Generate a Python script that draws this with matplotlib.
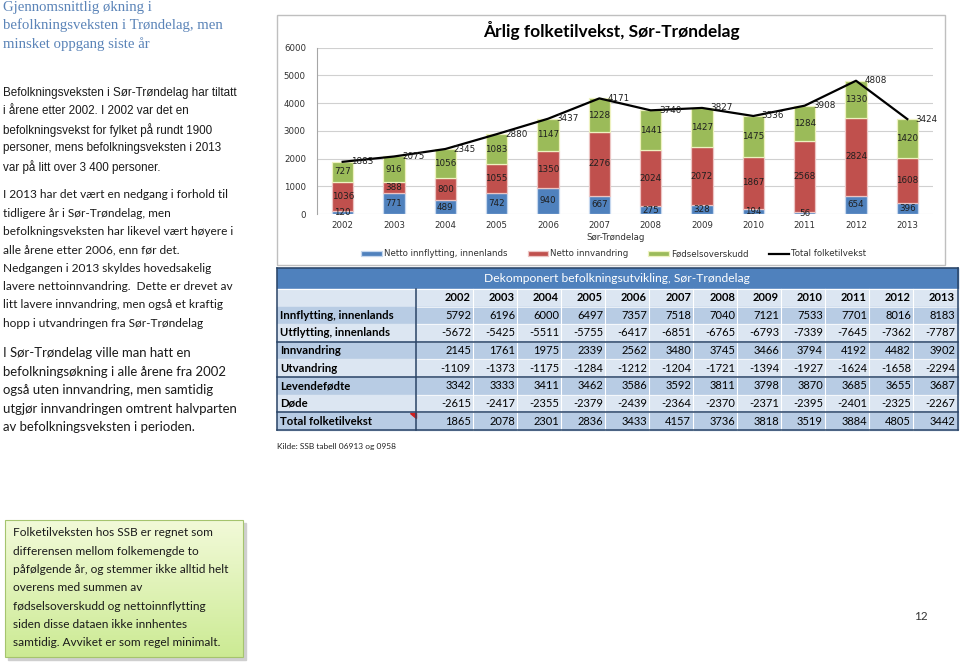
import matplotlib
matplotlib.use('Agg')
import matplotlib.pyplot as plt
import matplotlib.patches as mpatches
import numpy as np

# chart data
years = ['2002', '2003', '2004', '2005', '2006', '2007', '2008', '2009', '2010', '2011', '2012', '2013']
netto_innflytting = [120, 771, 489, 742, 940, 667, 275, 328, 194, 56, 654, 396]
netto_innvandring = [1036, 388, 800, 1055, 1350, 2276, 2024, 2072, 1867, 2568, 2824, 1608]
fodselsoverskudd = [727, 916, 1056, 1083, 1147, 1228, 1441, 1427, 1475, 1284, 1330, 1420]
total_vekst = [1883, 2075, 2345, 2880, 3437, 4171, 3740, 3827, 3536, 3908, 4808, 3424]

# table data
row_labels = ['Innflytting, innenlands', 'Utflytting, innenlands', 'Innvandring', 'Utvandring',
              'Levendefødte', 'Døde', 'Total folketilvekst']
innflytting = [5792, 6196, 6000, 6497, 7357, 7518, 7040, 7121, 7533, 7701, 8016, 8183]
utflytting = [-5672, -5425, -5511, -5755, -6417, -6851, -6765, -6793, -7339, -7645, -7362, -7787]
innvandring = [2145, 1761, 1975, 2339, 2562, 3480, 3745, 3466, 3794, 4192, 4482, 3902]
utvandring = [-1109, -1373, -1175, -1284, -1212, -1204, -1721, -1394, -1927, -1624, -1658, -2294]
levendefodte = [3342, 3333, 3411, 3462, 3586, 3592, 3811, 3798, 3870, 3685, 3655, 3687]
dode = [-2615, -2417, -2355, -2379, -2439, -2364, -2370, -2371, -2395, -2401, -2325, -2267]
total_tabell = [1865, 2078, 2301, 2836, 3433, 4157, 3736, 3818, 3519, 3884, 4805, 3442]
table_values = [innflytting, utflytting, innvandring, utvandring, levendefodte, dode, total_tabell]

title_lines = ['Gjennomsnittlig økning i', 'befolkningsveksten i Trøndelag, men', 'minsket oppgang siste år']
para1 = ['Befolkningsveksten i Sør-Trøndelag har tiltatt',
         'i årene etter 2002. I 2002 var det en',
         'befolkningsvekst for fylket på rundt 1900',
         'personer, mens befolkningsveksten i 2013',
         'var på litt over 3 400 personer.']
para2 = ['I 2013 har det vært en nedgang i forhold til',
         'tidligere år i Sør-Trøndelag, men',
         'befolkningsveksten har likevel vært høyere i',
         'alle årene etter 2006, enn før det.',
         'Nedgangen i 2013 skyldes hovedsakelig',
         'lavere nettoinnvandring.  Dette er drevet av',
         'litt lavere innvandring, men også et kraftig',
         'hopp i utvandringen fra Sør-Trøndelag']
para3 = ['I Sør-Trøndelag ville man hatt en',
         'befolkningsøkning i alle årene fra 2002',
         'også uten innvandring, men samtidig',
         'utgjør innvandringen omtrent halvparten',
         'av befolkningsveksten i perioden.']
box_lines = ['Folketilveksten hos SSB er regnet som',
             'differensen mellom folkemengde to',
             'påfølgende år, og stemmer ikke alltid helt',
             'overens med summen av',
             'fødselsoverskudd og nettoinnflytting',
             'siden disse dataen ikke innhentes',
             'samtidig. Avviket er som regel minimalt.']

plt.rcParams['font.family'] = ['DejaVu Sans']

W, H = 960, 662
fig = plt.figure(figsize=(9.6, 6.62), dpi=100)

# page layer in pixel coordinates
pg = fig.add_axes([0, 0, 1, 1], zorder=0)
pg.axis('off')

# left column text
for i, s in enumerate(title_lines):
    pg.text(3, 7 + i * 18.6, s, fontsize=10.6, family='Liberation Serif', color='#5b84b8', va='center')
for i, s in enumerate(para1):
    pg.text(3, 93 + i * 18.5, s, fontsize=8.4, family='Liberation Sans', color='#1a1a1a', va='center')
for i, s in enumerate(para2):
    pg.text(3, 195 + i * 18.3, s, fontsize=8.6, family='Lato', color='#1a1a1a', va='center')
for i, s in enumerate(para3):
    pg.text(3, 353 + i * 18.6, s, fontsize=9.45, family='Lato', color='#1a1a1a', va='center')

# green note box
pg.add_patch(mpatches.Rectangle((8, 523), 238, 137, color='#cfcfcf', zorder=1))
grad = np.linspace(0, 1, 100)[:, None, None]
top = np.array([0.95, 0.98, 0.85])
bot = np.array([0.80, 0.92, 0.58])
img = top * (1 - grad) + bot * grad
pg.imshow(img, extent=(5, 243, 657, 520), aspect='auto', zorder=2)
pg.add_patch(mpatches.Rectangle((5, 520), 238, 137, fill=False, ec='#a5c46e', lw=0.8, zorder=3))
for i, s in enumerate(box_lines):
    pg.text(13, 533 + i * 18.3, s, fontsize=8.6, family='Lato', color='#1a1a1a', va='center', zorder=4)

pg.text(921, 617, '12', fontsize=8.5, family='Lato', color='#333333', ha='center', va='center')

# chart frame
pg.add_patch(mpatches.Rectangle((277, 15), 668, 250, fill=True, fc='white', ec='#bfbfbf', lw=1))
pg.text(611, 31, 'Årlig folketilvekst, Sør-Trøndelag', fontsize=12.5, family='Lato', fontweight='bold',
        color='black', ha='center', va='center')

# table
t_left, c0, t_right = 277, 416, 958
col_r = [473 + 44 * i for i in range(12)]
row_top, rh = 289, 17.6
medium, light = '#b8cce4', '#dce6f2'
pg.add_patch(mpatches.Rectangle((t_left, 268), t_right - t_left, 21, color='#4f81bd'))
pg.text(617, 279, 'Dekomponert befolkningsutvikling, Sør-Trøndelag', fontsize=8.7, family='Lato',
        color='white', ha='center', va='center')
pg.add_patch(mpatches.Rectangle((t_left, row_top), t_right - t_left, rh, color=light))
for j, y in enumerate(years):
    pg.text(col_r[j] - 2, row_top + rh / 2, y, fontsize=8.0, family='Lato', fontweight='bold',
            ha='right', va='center', color='black')
for r, (lab, vals) in enumerate(zip(row_labels, table_values)):
    y0 = row_top + (r + 1) * rh
    pg.add_patch(mpatches.Rectangle((t_left, y0), t_right - t_left, rh,
                                    color=medium if r % 2 == 0 else light))
    pg.text(280, y0 + rh / 2, lab, fontsize=8.2, family='Lato', fontweight='bold',
            ha='left', va='center', color='black')
    for j, v in enumerate(vals):
        pg.text(col_r[j] - 2, y0 + rh / 2, str(v), fontsize=8.0, family='Lato',
                ha='right', va='center', color='black')
t_bot = row_top + 8 * rh
for xx in col_r[:-1]:
    pg.plot([xx, xx], [row_top, t_bot], color='white', lw=0.8)
for r in range(1, 8):
    pg.plot([c0, t_right], [row_top + r * rh] * 2, color='white', lw=0.5)
pg.plot([t_left, t_right], [row_top, row_top], color='white', lw=0.8)
for r in [3, 5, 7, 8]:
    pg.plot([t_left, t_right], [row_top + r * rh] * 2, color='#2a4466', lw=1.1)
pg.plot([t_left, t_right], [268, 268], color='#2a4466', lw=1.1)
pg.plot([t_left, t_left], [268, t_bot], color='#2a4466', lw=1.1)
pg.plot([t_right, t_right], [268, t_bot], color='#2a4466', lw=1.1)
pg.plot([c0, c0], [row_top, t_bot], color='#2a4466', lw=1.1)
pg.add_patch(mpatches.Polygon([(410, 412.8), (415.5, 412.8), (415.5, 418)], color='#d02020'))

pg.text(277, 447, 'Kilde: SSB tabell 06913 og 0958', fontsize=6, family='Lato', color='#222222',
        va='center')

pg.set_xlim(0, W)
pg.set_ylim(H, 0)

# stacked bar chart
ax = fig.add_axes([317 / W, 1 - 214 / H, (933 - 317) / W, (214 - 47.7) / H], zorder=2)
ax.patch.set_alpha(0)
x = np.arange(len(years))
bottom2 = np.array(netto_innflytting)
bottom3 = bottom2 + np.array(netto_innvandring)
b1 = ax.bar(x, netto_innflytting, width=0.42, color='#4f81bd', edgecolor='#c5d7ee', lw=0.9,
            label='Netto innflytting, innenlands')
b2 = ax.bar(x, netto_innvandring, width=0.42, bottom=bottom2, color='#c0504d', edgecolor='#ecc4c3', lw=0.9,
            label='Netto innvandring')
b3 = ax.bar(x, fodselsoverskudd, width=0.42, bottom=bottom3, color='#9bbb59', edgecolor='#eef2c0', lw=0.9,
            label='Fødselsoverskudd')
for b in (b1, b2, b3):
    ax.bar_label(b, label_type='center', fontsize=6.3, color='#1f1f1f')
ln, = ax.plot(x, total_vekst, color='black', lw=1.6, label='Total folketilvekst')
for i, v in enumerate(total_vekst):
    ax.annotate(str(v), (i, v), xytext=(6, 0), textcoords='offset points', ha='left', va='center',
                fontsize=6.3, color='#1f1f1f')

ax.set_xlim(-0.5, 11.5)
ax.set_ylim(0, 6000)
ax.set_yticks(range(0, 7000, 1000))
ax.set_xticks(x)
ax.set_xticklabels(years)
ax.tick_params(length=0, labelsize=6.2, colors='#303030')
ax.tick_params(axis='y', pad=8)
ax.tick_params(axis='x', pad=5)
ax.yaxis.grid(True, color='#d0d0d0', lw=0.8)
ax.set_axisbelow(True)
for s in ('top', 'right', 'bottom'):
    ax.spines[s].set_visible(False)
ax.spines['left'].set_color('#a6a6a6')
ax.set_xlabel('Sør-Trøndelag', fontsize=6.2, color='#303030')
ax.xaxis.set_label_coords(0.484, -0.144)
ax.xaxis.label.set_va('center')

fig.legend(handles=[b1, b2, b3, ln], loc='center', bbox_to_anchor=(614 / W, 1 - 254 / H), ncol=4,
           frameon=False, fontsize=6.2, handlelength=2.4, handleheight=0.45, handletextpad=0.25,
           columnspacing=2.3, labelcolor='#303030')

fig.savefig('out.png', dpi=100)
